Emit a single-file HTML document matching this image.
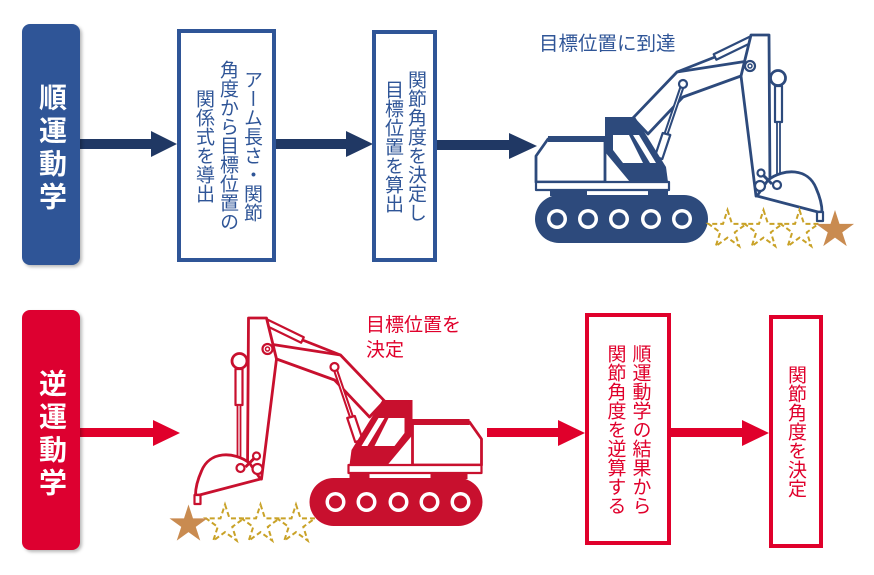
<!DOCTYPE html>
<html><head><meta charset="utf-8">
<style>
html,body{margin:0;padding:0;background:#fff;}
body{width:874px;height:575px;position:relative;overflow:hidden;font-family:"Liberation Sans","Noto Sans CJK JP",sans-serif;}
.abs{position:absolute;}
.lbl{position:absolute;border-radius:8px;box-shadow:2px 2px 3px rgba(0,0,0,0.28);}
.lt{position:absolute;writing-mode:vertical-rl;color:#fff;font-weight:bold;font-size:28px;line-height:28px;letter-spacing:5px;width:28px;}
.box{position:absolute;box-sizing:border-box;border:4px solid;background:#fff;}
.vt{position:absolute;writing-mode:vertical-rl;text-align:center;font-size:19px;white-space:nowrap;}
</style></head><body>
<svg class="abs" style="left:0;top:0" width="874" height="575" viewBox="0 0 874 575">
<!-- blue arrows -->
<g fill="#203864">
<rect x="80" y="139" width="73" height="10"/><polygon points="151,131 177,144 151,157"/>
<rect x="276" y="139" width="72" height="10"/><polygon points="346,131 373,144 346,157"/>
<rect x="437" y="140" width="74" height="10"/><polygon points="509,133 537,146 509,159"/>
</g>
<!-- red arrows -->
<g fill="#E0002B">
<rect x="80" y="428" width="75" height="9"/><polygon points="153,420 180,433 153,446"/>
<rect x="487" y="428" width="73" height="9"/><polygon points="558,420 585,433 558,446"/>
<rect x="671" y="428" width="73" height="9"/><polygon points="742,420 769,433 742,446"/>
</g>

<!-- blue excavator -->
<g stroke="#2D4A7C" stroke-width="2.8" stroke-linejoin="round" fill="#fff">
 <polygon points="633,118 677,72 748,61 752,72 683,97 648,134"/>
 <line x1="677" y1="72" x2="715" y2="57"/>
 <polygon points="716.3,59.7 753.3,41.7 750.7,36.3 713.7,54.3" stroke-width="2.2"/>
 <polygon points="683.4,87.5 667.4,134.5 664.6,133.5 680.6,86.5" stroke-width="2"/>
 <polygon points="670.3,135 662.3,159 654.7,157 662.7,133" stroke-width="2.2"/>
 <circle cx="683" cy="84" r="4" stroke-width="2.2"/>
 <polygon points="751,35 769,35 770,188 756,196 741,76"/>
 <rect x="775" y="86" width="7" height="36" stroke-width="2.2"/>
 <rect x="777" y="122" width="3" height="63" stroke-width="1.8"/>
 <circle cx="778" cy="78" r="7.5"/>
 <path d="M768,180 C784,168 808,168 816,188 C820,197 822,205 822,212 L818,212 L757,196 Z"/>
 <rect x="817" y="212" width="6" height="9" stroke-width="2.2"/>
 <line x1="761" y1="173" x2="772" y2="184" stroke-width="3"/>
 <circle cx="761" cy="173" r="3.5" stroke-width="2.2"/>
 <circle cx="760" cy="186" r="5" stroke-width="2.2"/>
 <circle cx="777" cy="185" r="4" stroke-width="2.2"/>
 <circle cx="750" cy="66" r="5" stroke-width="2.2"/>
 <circle cx="750" cy="66" r="2" stroke-width="1.5"/>
 <polygon points="536,156 548,139 605,139 605,182 536,182"/>
 <rect x="548" y="136" width="58" height="6" fill="#2D4A7C" stroke="none"/>
 <polygon points="605,117 635,117 666,167 668,182 630,182 605,152" fill="#2D4A7C" stroke="none"/>
 <polygon points="613,135 629,135 643,163 623,163 613,150" fill="#fff" stroke="none"/>
 <polygon points="633,135 639,135 656,163 650,163" fill="#fff" stroke="none"/>
 <rect x="536" y="182" width="133" height="8" stroke-width="2.2"/>
 <g fill="#2D4A7C" stroke="none">
  <rect x="550" y="190" width="37" height="6"/><rect x="648" y="190" width="20" height="6"/>
  <rect x="535" y="195" width="173" height="48" rx="24"/>
 </g>
 <g fill="#fff" stroke="none">
  <circle cx="557" cy="219" r="10"/><circle cx="588" cy="219" r="10"/><circle cx="619" cy="219" r="10"/><circle cx="651" cy="219" r="10"/><circle cx="682" cy="219" r="10"/>
 </g>
 <g fill="#2D4A7C" stroke="none">
  <circle cx="557" cy="219" r="6.5"/><circle cx="588" cy="219" r="6.5"/><circle cx="619" cy="219" r="6.5"/><circle cx="651" cy="219" r="6.5"/><circle cx="682" cy="219" r="6.5"/>
 </g>
</g>

<!-- red excavator (mirrored) -->
<g transform="matrix(-1 0 0 1 1017.5 283)" stroke="#C8102E" stroke-width="2.8" stroke-linejoin="round" fill="#fff">
 <polygon points="633,118 677,72 748,61 752,72 683,97 648,134"/>
 <line x1="677" y1="72" x2="715" y2="57"/>
 <polygon points="716.3,59.7 753.3,41.7 750.7,36.3 713.7,54.3" stroke-width="2.2"/>
 <polygon points="683.4,87.5 667.4,134.5 664.6,133.5 680.6,86.5" stroke-width="2"/>
 <polygon points="670.3,135 662.3,159 654.7,157 662.7,133" stroke-width="2.2"/>
 <circle cx="683" cy="84" r="4" stroke-width="2.2"/>
 <polygon points="751,35 769,35 770,188 756,196 741,76"/>
 <rect x="775" y="86" width="7" height="36" stroke-width="2.2"/>
 <rect x="777" y="122" width="3" height="63" stroke-width="1.8"/>
 <circle cx="778" cy="78" r="7.5"/>
 <path d="M768,180 C784,168 808,168 816,188 C820,197 822,205 822,212 L818,212 L757,196 Z"/>
 <rect x="817" y="212" width="6" height="9" stroke-width="2.2"/>
 <line x1="761" y1="173" x2="772" y2="184" stroke-width="3"/>
 <circle cx="761" cy="173" r="3.5" stroke-width="2.2"/>
 <circle cx="760" cy="186" r="5" stroke-width="2.2"/>
 <circle cx="777" cy="185" r="4" stroke-width="2.2"/>
 <circle cx="750" cy="66" r="5" stroke-width="2.2"/>
 <circle cx="750" cy="66" r="2" stroke-width="1.5"/>
 <polygon points="536,156 548,139 605,139 605,182 536,182"/>
 <rect x="548" y="136" width="58" height="6" fill="#C8102E" stroke="none"/>
 <polygon points="605,117 635,117 666,167 668,182 630,182 605,152" fill="#C8102E" stroke="none"/>
 <polygon points="613,135 629,135 643,163 623,163 613,150" fill="#fff" stroke="none"/>
 <polygon points="633,135 639,135 656,163 650,163" fill="#fff" stroke="none"/>
 <rect x="536" y="182" width="133" height="8" stroke-width="2.2"/>
 <g fill="#C8102E" stroke="none">
  <rect x="550" y="190" width="37" height="6"/><rect x="648" y="190" width="20" height="6"/>
  <rect x="535" y="195" width="173" height="48" rx="24"/>
 </g>
 <g fill="#fff" stroke="none">
  <circle cx="557" cy="219" r="10"/><circle cx="588" cy="219" r="10"/><circle cx="619" cy="219" r="10"/><circle cx="651" cy="219" r="10"/><circle cx="682" cy="219" r="10"/>
 </g>
 <g fill="#C8102E" stroke="none">
  <circle cx="557" cy="219" r="6.5"/><circle cx="588" cy="219" r="6.5"/><circle cx="619" cy="219" r="6.5"/><circle cx="651" cy="219" r="6.5"/><circle cx="682" cy="219" r="6.5"/>
 </g>
</g>

<!-- stars top -->
<g fill="none" stroke="#C9A227" stroke-width="2" stroke-dasharray="5,3">
 <polygon transform="translate(727.5,230)" points="0,-20 4.49,-6.18 19.02,-6.18 7.27,2.36 11.76,16.18 0,7.64 -11.76,16.18 -7.27,2.36 -19.02,-6.18 -4.49,-6.18"/>
 <polygon transform="translate(763.5,230)" points="0,-20 4.49,-6.18 19.02,-6.18 7.27,2.36 11.76,16.18 0,7.64 -11.76,16.18 -7.27,2.36 -19.02,-6.18 -4.49,-6.18"/>
 <polygon transform="translate(799.5,230)" points="0,-20 4.49,-6.18 19.02,-6.18 7.27,2.36 11.76,16.18 0,7.64 -11.76,16.18 -7.27,2.36 -19.02,-6.18 -4.49,-6.18"/>
</g>
<polygon fill="#C98B50" transform="translate(835,230)" points="0,-20 4.49,-6.18 19.02,-6.18 7.27,2.36 11.76,16.18 0,7.64 -11.76,16.18 -7.27,2.36 -19.02,-6.18 -4.49,-6.18"/>
<!-- stars bottom -->
<g fill="none" stroke="#C9A227" stroke-width="2" stroke-dasharray="5,3">
 <polygon transform="translate(225,524.5)" points="0,-20 4.49,-6.18 19.02,-6.18 7.27,2.36 11.76,16.18 0,7.64 -11.76,16.18 -7.27,2.36 -19.02,-6.18 -4.49,-6.18"/>
 <polygon transform="translate(260.5,524.5)" points="0,-20 4.49,-6.18 19.02,-6.18 7.27,2.36 11.76,16.18 0,7.64 -11.76,16.18 -7.27,2.36 -19.02,-6.18 -4.49,-6.18"/>
 <polygon transform="translate(296,524.5)" points="0,-20 4.49,-6.18 19.02,-6.18 7.27,2.36 11.76,16.18 0,7.64 -11.76,16.18 -7.27,2.36 -19.02,-6.18 -4.49,-6.18"/>
</g>
<polygon fill="#C98B50" transform="translate(188.5,524.5)" points="0,-20 4.49,-6.18 19.02,-6.18 7.27,2.36 11.76,16.18 0,7.64 -11.76,16.18 -7.27,2.36 -19.02,-6.18 -4.49,-6.18"/>
</svg>

<!-- label boxes -->
<div class="lbl" style="left:22px;top:24px;width:58px;height:241px;background:#2F5597;"></div>
<div class="lt" style="left:37px;top:83px;">順運動学</div>
<div class="lbl" style="left:22px;top:310px;width:58px;height:240px;background:#DD0030;"></div>
<div class="lt" style="left:37px;top:369px;">逆運動学</div>

<!-- blue boxes -->
<div class="box" style="left:177px;top:29px;width:99px;height:233px;border-color:#2F5597;"></div>
<div class="vt" style="left:191px;top:29px;width:72px;height:233px;line-height:24px;color:#2F5597;">アーム長さ・関節<br>角度から目標位置の<br>関係式を導出</div>
<div class="box" style="left:372px;top:30px;width:65px;height:232px;border-color:#2F5597;"></div>
<div class="vt" style="left:381px;top:30px;width:46px;height:232px;line-height:23px;color:#2F5597;">関節角度を決定し<br>目標位置を算出</div>

<!-- red boxes -->
<div class="box" style="left:585px;top:313px;width:86px;height:232px;border-color:#E0002B;"></div>
<div class="vt" style="left:602.5px;top:313px;width:50px;height:232px;line-height:25px;color:#E0002B;">順運動学の結果から<br>関節角度を逆算する</div>
<div class="box" style="left:769px;top:315px;width:54px;height:233px;border-color:#E0002B;"></div>
<div class="vt" style="left:783px;top:315px;width:24px;height:233px;line-height:24px;color:#E0002B;">関節角度を決定</div>

<!-- horizontal labels -->
<div class="abs" style="left:539px;top:33px;font-size:19.5px;line-height:22px;color:#2F5597;white-space:nowrap;">目標位置に到達</div>
<div class="abs" style="left:366px;top:313px;font-size:19px;line-height:25px;color:#E0002B;white-space:nowrap;">目標位置を<br>決定</div>
</body></html>
